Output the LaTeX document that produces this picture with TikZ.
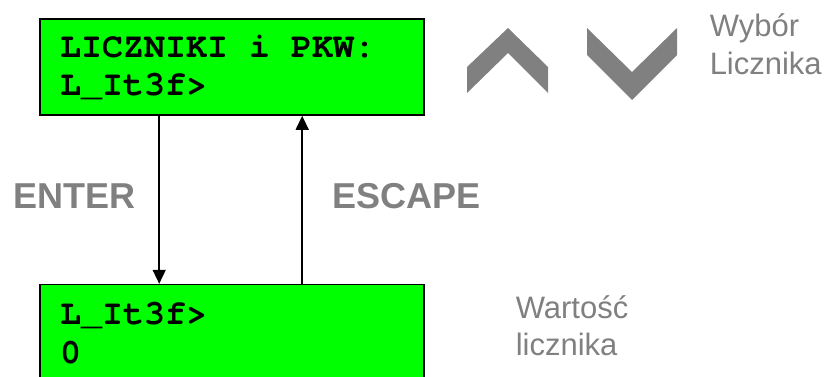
\documentclass[tikz,border=0pt]{standalone}
\usepackage{fontspec}
\usepackage{tikz}
\usetikzlibrary{arrows.meta, positioning}
\newfontfamily\lcdfont[WordSpace={1,0,0}]{TeX Gyre Cursor}
\newfontfamily\labelfont{Liberation Sans}
\definecolor{lcdgreen}{HTML}{00FF00}
\definecolor{keygray}{HTML}{808080}

\begin{document}
\begin{tikzpicture}[x=1pt, y=1pt, >={Triangle[length=14pt, width=13pt]},
                    line width=1.5pt, node distance=168pt]
\tikzstyle{lcd}=[draw=black, fill=lcdgreen, line width=1.6pt,
                    minimum width=384pt, minimum height=96pt,
                    text width=344pt, align=left, inner sep=0pt,
                    execute at begin node={\spaceskip=0pt\xspaceskip=0pt}]
\tikzstyle{key}=[text=keygray, inner sep=0pt]
\tikzstyle{hint}=[text=keygray, inner sep=0pt, align=left, anchor=west]
\tikzstyle{chevron}=[fill=keygray, draw=none]
  \useasboundingbox (0,0) rectangle (826,-376);
  \clip (0,0) rectangle (826,-376);
  \node[lcd, font=\lcdfont\bfseries\fontsize{35}{38}\selectfont] (menu) at (232,-67)
       {LICZNIKI i PKW:\\L\_It3f>};
  \node[lcd, font=\lcdfont\bfseries\fontsize{35}{39}\selectfont] (value) [below=of menu]
       {L\_It3f>\\0};
  \path[->]    ([xshift=120pt]menu.south west) edge
       node [key, left=23pt, yshift=4pt, font=\labelfont\bfseries\fontsize{36}{40}\selectfont] (enter) {ENTER}
       ([xshift=120pt]value.north west);
  \path[->]    ([xshift=263pt]value.north west) edge
       node [key, right=30pt, yshift=4pt, font=\labelfont\bfseries\fontsize{36}{40}\selectfont] (escape) {ESCAPE}
       ([xshift=263pt]menu.south west);
  % strzalki wyboru
  \fill[chevron] (467,-67) -- (508,-28) -- (548,-67) -- (548,-93) -- (508,-53) -- (467,-93) -- cycle;
  \fill[chevron] (587,-28) -- (632,-72) -- (677,-28) -- (677,-55) -- (632,-100) -- (587,-55) -- cycle;
  \node[hint, font=\labelfont\fontsize{31}{38}\selectfont] (choice) at (709,-44.5) {Wybór\\Licznika};
  \node[hint, font=\labelfont\fontsize{31}{37}\selectfont] (counter) at (515,-326) {Wartość\\licznika};
\end{tikzpicture}
\end{document}
